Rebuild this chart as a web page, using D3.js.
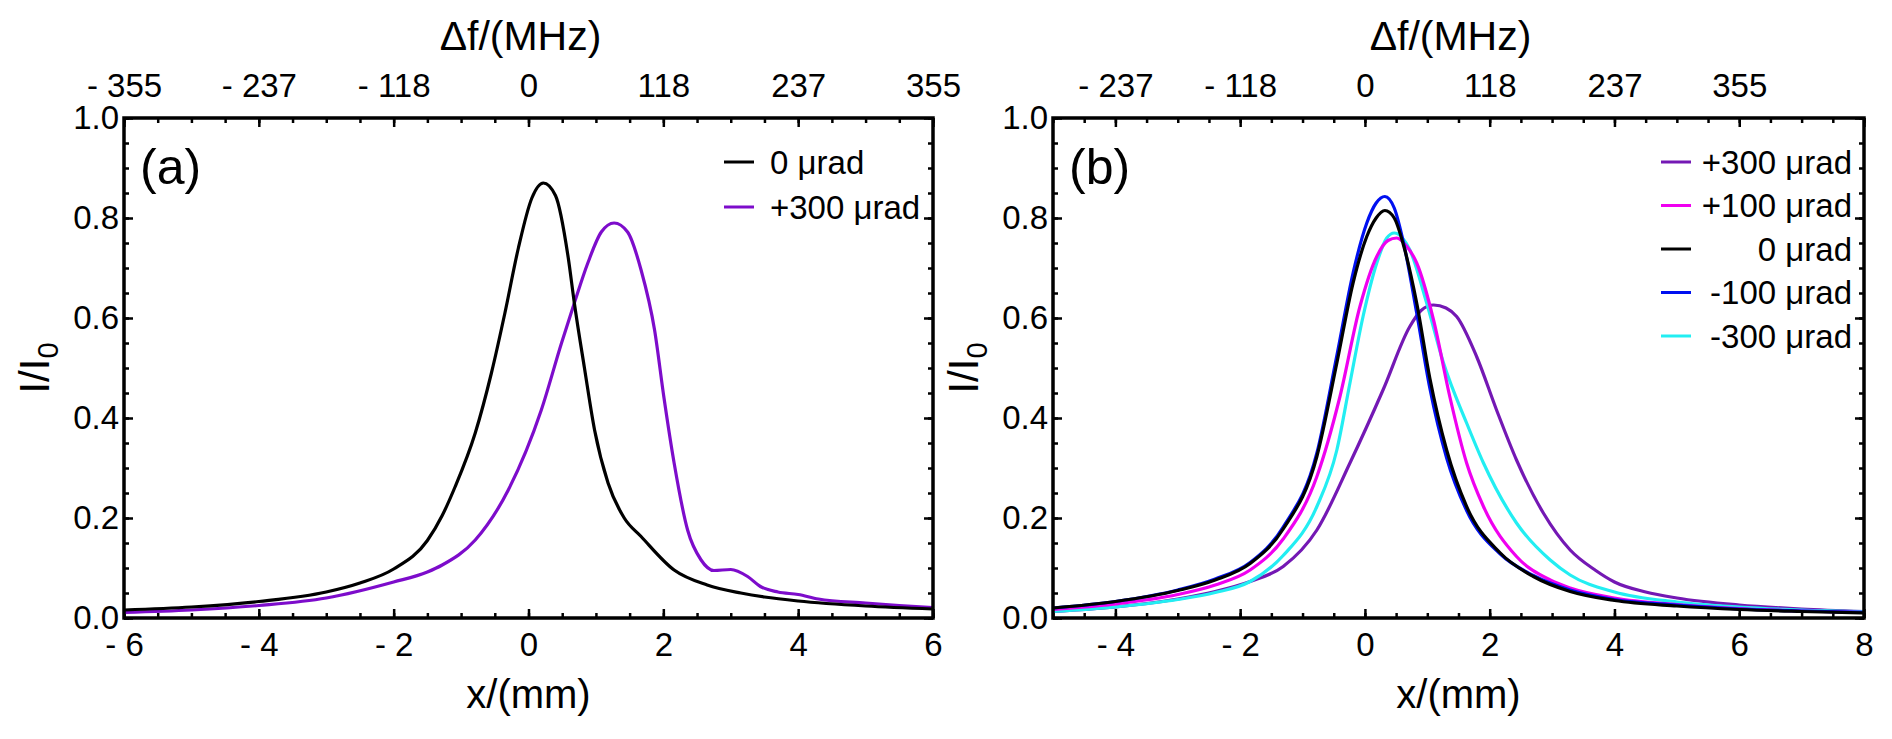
<!DOCTYPE html>
<html>
<head>
<meta charset="utf-8">
<script src="https://cdn.jsdelivr.net/npm/d3@7.9.0/dist/d3.min.js"></script>
<style>
  body { margin: 0; background: #fff; }
  svg { display: block; font-family: "Liberation Sans", Arial, sans-serif; }
  .tick text { font-size: 33px; fill: #000; }
  .tick line { stroke: #000; stroke-width: 2.5; }
  .legend text { font-size: 33px; }
</style>
</head>
<body>
<svg id="chart" width="1892" height="739"></svg>
<script>
// ---- data ----
// panel (a)
const a_0urad = [
  [-6, 0.016], [-5, 0.022], [-4, 0.033], [-3, 0.052], [-2.5, 0.07], [-2, 0.098],
  [-1.5, 0.155], [-1.28, 0.205], [-1.09, 0.262], [-0.79, 0.37], [-0.55, 0.49],
  [-0.35, 0.61], [-0.15, 0.74], [0.05, 0.84], [0.22, 0.87], [0.40, 0.845],
  [0.59, 0.72], [0.68, 0.63], [0.83, 0.50], [0.98, 0.376], [1.18, 0.27],
  [1.42, 0.20], [1.67, 0.163], [2.16, 0.096], [2.65, 0.066], [3.15, 0.05],
  [3.5, 0.042], [4, 0.034], [5, 0.024], [6, 0.018]
];
const a_300urad = [
  [-6, 0.011], [-5, 0.016], [-4, 0.025], [-3, 0.04], [-2, 0.072], [-1.5, 0.092],
  [-1.28, 0.106], [-0.79, 0.156], [-0.30, 0.256], [0.19, 0.416], [0.49, 0.55],
  [0.68, 0.63], [0.88, 0.71], [1.08, 0.772], [1.27, 0.79], [1.47, 0.772],
  [1.67, 0.696], [1.87, 0.576], [2.01, 0.44], [2.16, 0.31], [2.36, 0.176],
  [2.56, 0.116], [2.75, 0.095], [3.0, 0.097], [3.25, 0.083], [3.44, 0.063],
  [3.7, 0.052], [4.0, 0.047], [4.3, 0.038], [5, 0.03], [5.5, 0.025], [6, 0.021]
];
// panel (b)
const b_p300 = [
  [-5, 0.013], [-4, 0.022], [-3, 0.038], [-2.4, 0.053], [-1.84, 0.073], [-1.31, 0.103],
  [-0.77, 0.176], [-0.24, 0.31], [0.29, 0.456], [0.72, 0.583], [0.9, 0.615],
  [1.10, 0.626], [1.3, 0.62], [1.47, 0.603], [1.79, 0.523], [2.11, 0.416],
  [2.43, 0.316], [2.86, 0.21], [3.29, 0.136], [3.7, 0.095], [4, 0.072],
  [4.5, 0.052], [5, 0.04], [6, 0.026], [7, 0.018], [8, 0.013]
];
const b_p100 = [
  [-5, 0.017], [-4, 0.028], [-3, 0.047], [-2.4, 0.066], [-1.84, 0.096], [-1.31, 0.158],
  [-0.77, 0.283], [-0.40, 0.443], [-0.08, 0.623], [0.19, 0.723], [0.37, 0.755],
  [0.51, 0.76], [0.66, 0.745], [0.83, 0.71], [1.10, 0.596], [1.36, 0.443],
  [1.63, 0.31], [1.90, 0.223], [2.43, 0.123], [2.97, 0.076], [3.29, 0.06],
  [4, 0.04], [5, 0.027], [6, 0.019], [7, 0.014], [8, 0.011]
];
const b_0 = [
  [-5, 0.02], [-4, 0.033], [-3, 0.055], [-2.4, 0.076], [-1.84, 0.109], [-1.31, 0.178],
  [-0.77, 0.323], [-0.45, 0.51], [-0.19, 0.67], [0.03, 0.763], [0.18, 0.80],
  [0.32, 0.815], [0.47, 0.80], [0.62, 0.745], [0.83, 0.63], [1.04, 0.48],
  [1.31, 0.336], [1.63, 0.223], [2.17, 0.13], [2.7, 0.083], [3.29, 0.053],
  [4, 0.035], [5, 0.024], [6, 0.017], [7, 0.013], [8, 0.01]
];
const b_m100 = [
  [-5, 0.02], [-4, 0.033], [-3, 0.056], [-2.4, 0.078], [-1.84, 0.111], [-1.31, 0.182],
  [-0.77, 0.33], [-0.45, 0.525], [-0.19, 0.69], [0.03, 0.79], [0.18, 0.83],
  [0.32, 0.843], [0.47, 0.82], [0.62, 0.75], [0.83, 0.61], [1.04, 0.46],
  [1.31, 0.32], [1.63, 0.215], [2.17, 0.128], [2.7, 0.085], [3.29, 0.056],
  [4, 0.037], [5, 0.026], [6, 0.018], [7, 0.014], [8, 0.011]
];
const b_m300 = [
  [-5, 0.013], [-4, 0.022], [-3, 0.037], [-2.4, 0.051], [-1.84, 0.073], [-1.31, 0.125],
  [-0.77, 0.223], [-0.45, 0.336], [-0.24, 0.47], [-0.03, 0.603], [0.19, 0.71],
  [0.35, 0.76], [0.47, 0.77], [0.72, 0.736], [0.99, 0.63], [1.26, 0.51],
  [1.63, 0.39], [1.90, 0.31], [2.43, 0.19], [2.97, 0.116], [3.29, 0.086],
  [4, 0.052], [5, 0.032], [6, 0.022], [7, 0.016], [8, 0.013]
];

const yTicks = [0, 0.2, 0.4, 0.6, 0.8, 1.0];
const aXTicks = [-6, -4, -2, 0, 2, 4, 6];
const bXTicks = [-4, -2, 0, 2, 4, 6, 8];
const aTopTicks = [-6, -4, -2, 0, 2, 4, 6];
const aTopLabels = ['- 355', '- 237', '- 118', '0', '118', '237', '355'];
const bTopTicks = [-4, -2, 0, 2, 4, 6];
const bTopLabels = ['- 237', '- 118', '0', '118', '237', '355'];

const aLegend = ['0 μrad', '+300 μrad'];
const bLegend = ['+300 μrad', '+100 μrad', '0 μrad', '-100 μrad', '-300 μrad'];

const svg = d3.select('#chart');
const fmtMinus = (d) => (d < 0 ? '- ' + Math.abs(d) : String(d));

function drawPanel(opt) {
  const { left, right, top, bottom, xDomain } = opt;
  const x = d3.scaleLinear().domain(xDomain).range([left, right]);
  const y = d3.scaleLinear().domain([0, 1]).range([bottom, top]);
  const g = svg.append('g');

  // clip for curves
  g.append('clipPath').attr('id', opt.id + '-clip')
    .append('rect').attr('x', left).attr('y', top)
    .attr('width', right - left).attr('height', bottom - top);

  const minorX = d3.range(xDomain[0], xDomain[1] + 0.001, 0.5);
  const minorY = d3.range(0, 1.0001, 0.05);

  // bottom axis
  g.append('g').attr('transform', `translate(0,${bottom})`)
    .call(d3.axisBottom(x).tickValues(minorX).tickSize(-5).tickSizeOuter(0).tickFormat(''));
  g.append('g').attr('transform', `translate(0,${bottom})`)
    .call(d3.axisBottom(x).tickValues(opt.xTicks).tickSize(-9).tickSizeOuter(0)
      .tickPadding(15).tickFormat(fmtMinus));
  // top axis
  g.append('g').attr('transform', `translate(0,${top})`)
    .call(d3.axisTop(x).tickValues(minorX).tickSize(-5).tickSizeOuter(0).tickFormat(''));
  g.append('g').attr('transform', `translate(0,${top})`)
    .call(d3.axisTop(x).tickValues(xDomain[1] > 6 ? [...opt.topTicks, 8] : opt.topTicks)
      .tickSize(-9).tickSizeOuter(0).tickPadding(21)
      .tickFormat((d, i) => opt.topLabels[i] || ''));
  // left axis
  g.append('g').attr('transform', `translate(${left},0)`)
    .call(d3.axisLeft(y).tickValues(minorY).tickSize(-5).tickSizeOuter(0).tickFormat(''));
  g.append('g').attr('transform', `translate(${left},0)`)
    .call(d3.axisLeft(y).tickValues(yTicks).tickSize(-9).tickSizeOuter(0)
      .tickPadding(5).tickFormat(d3.format('.1f')));
  // right axis
  g.append('g').attr('transform', `translate(${right},0)`)
    .call(d3.axisRight(y).tickValues(minorY).tickSize(-5).tickSizeOuter(0).tickFormat(''));
  g.append('g').attr('transform', `translate(${right},0)`)
    .call(d3.axisRight(y).tickValues(yTicks).tickSize(-9).tickSizeOuter(0).tickFormat(''));

  g.selectAll('.domain').remove();
  g.selectAll('.tick text').attr('font-family', null).attr('font-size', null);

  // curves
  const line = d3.line()
    .x((d) => x(d[0])).y((d) => y(d[1]))
    .curve(d3.curveMonotoneX);
  const curves = g.append('g').attr('clip-path', `url(#${opt.id}-clip)`);
  opt.series.forEach((s) => {
    curves.append('path')
      .attr('d', line(s.data))
      .attr('fill', 'none')
      .attr('stroke', s.color)
      .attr('stroke-width', 3.2)
      .attr('stroke-linejoin', 'round');
  });

  // frame
  g.append('rect')
    .attr('x', left).attr('y', top)
    .attr('width', right - left).attr('height', bottom - top)
    .attr('fill', 'none').attr('stroke', '#000').attr('stroke-width', 3.5);

  // axis titles
  const cx = (left + right) / 2;
  g.append('text').attr('x', cx).attr('y', 708)
    .attr('text-anchor', 'middle').attr('font-size', 40).text('x/(mm)');
  g.append('text').attr('x', cx - 8).attr('y', 50)
    .attr('text-anchor', 'middle').attr('font-size', 41).text('Δf/(MHz)');
  const yt = g.append('text')
    .attr('transform', `translate(${left - 75},${(top + bottom) / 2}) rotate(-90)`)
    .attr('text-anchor', 'middle').attr('font-size', 42);
  yt.append('tspan').text('I/I');
  yt.append('tspan').attr('font-size', 29).attr('dy', 9).text('0');

  // panel label
  g.append('text').attr('x', left + 16).attr('y', 184)
    .attr('font-size', 50).text(opt.label);

  // legend
  const lg = g.append('g').attr('class', 'legend');
  opt.legend.forEach((txt, i) => {
    const ly = opt.legendY + i * opt.legendStep;
    lg.append('line')
      .attr('x1', opt.legendLineX).attr('x2', opt.legendLineX + 30)
      .attr('y1', ly).attr('y2', ly)
      .attr('stroke', opt.legendColors[i]).attr('stroke-width', 3);
    lg.append('text')
      .attr('x', opt.legendTextX).attr('y', ly).attr('dy', '0.36em')
      .attr('text-anchor', opt.legendAnchor)
      .text(txt);
  });
}

const violetA = '#7d0ccb';
const violetB = '#7418b4';

drawPanel({
  id: 'a', left: 124, right: 933, top: 118, bottom: 618, xDomain: [-6, 6],
  xTicks: aXTicks, topTicks: aTopTicks, topLabels: aTopLabels, label: '(a)',
  series: [
    { data: a_300urad, color: violetA },
    { data: a_0urad, color: '#000' }
  ],
  legend: aLegend, legendColors: ['#000', violetA],
  legendY: 162, legendStep: 45, legendLineX: 724, legendTextX: 770, legendAnchor: 'start'
});

drawPanel({
  id: 'b', left: 1053, right: 1864, top: 118, bottom: 618, xDomain: [-5, 8],
  xTicks: bXTicks, topTicks: bTopTicks, topLabels: bTopLabels, label: '(b)',
  series: [
    { data: b_p300, color: violetB },
    { data: b_m300, color: '#22eef2' },
    { data: b_p100, color: '#f000f0' },
    { data: b_m100, color: '#0010f0' },
    { data: b_0, color: '#000' }
  ],
  legend: bLegend, legendColors: [violetB, '#f000f0', '#000', '#0010f0', '#22eef2'],
  legendY: 162, legendStep: 43.5, legendLineX: 1661, legendTextX: 1852, legendAnchor: 'end'
});
</script>
</body>
</html>
